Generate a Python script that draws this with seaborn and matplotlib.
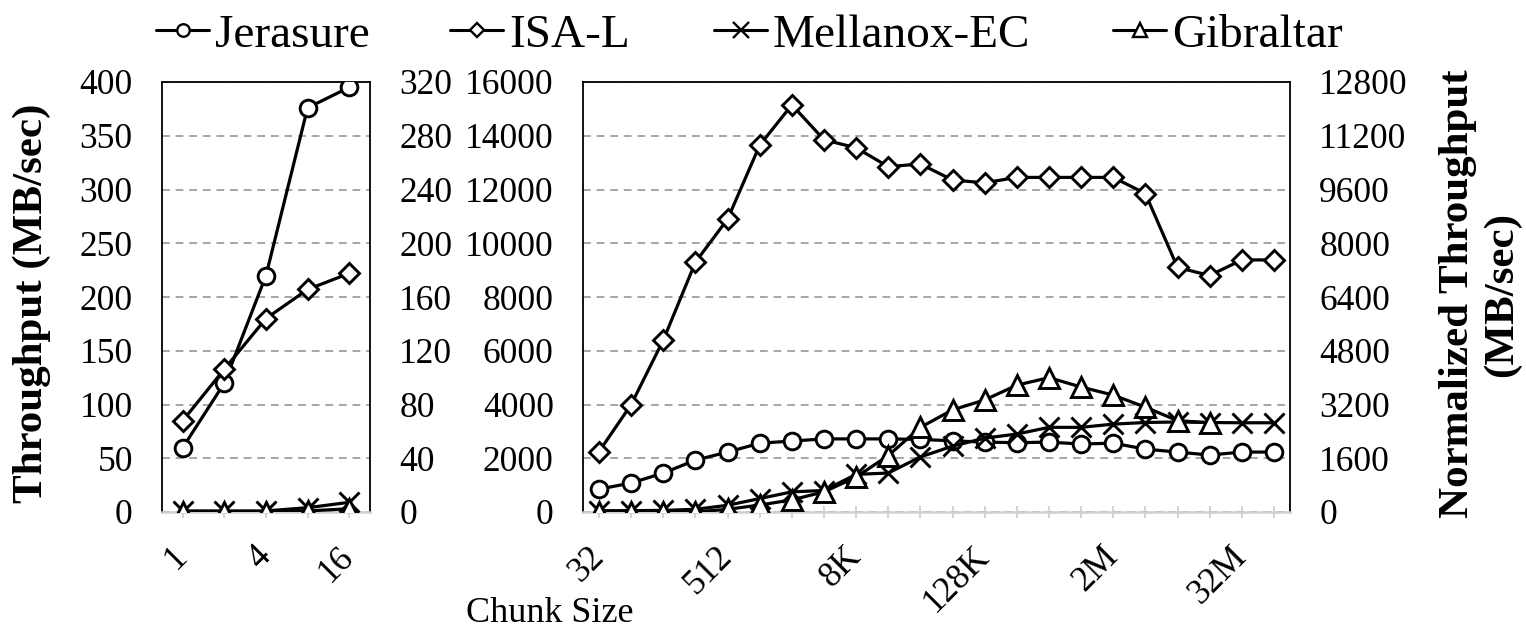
import matplotlib
matplotlib.use('Agg')
import matplotlib.pyplot as plt
import seaborn as sns
import numpy as np
from matplotlib.lines import Line2D

sns.set_theme(style='white')
plt.rcParams['font.family'] = ['Liberation Serif', 'DejaVu Serif']
plt.rcParams['text.color'] = 'black'
plt.rcParams['xtick.color'] = 'black'
plt.rcParams['ytick.color'] = 'black'

# ---------------- data ----------------
series_names = ['Jerasure', 'ISA-L', 'Mellanox-EC', 'Gibraltar']

small_sizes = ['1', '2', '4', '8', '16']
small_tick_labels = ['1', '', '4', '', '16']
jer_small = [60, 120, 220, 376, 395]
isal_small = [85, 133, 180, 207, 222]
mlx_small = [1, 1, 1, 4, 9]
gib_small = [0, 0, 0, 1, 3]

big_sizes = ['32', '64', '128', '256', '512', '1K', '2K', '4K', '8K', '16K', '32K',
             '64K', '128K', '256K', '512K', '1M', '2M', '4M', '8M', '16M', '32M', '64M']
big_tick_labels = ['32', '', '', '', '512', '', '', '', '8K', '', '', '', '128K', '', '', '',
                   '2M', '', '', '', '32M', '']
jer_big = [850, 1080, 1450, 1930, 2230, 2560, 2640, 2720, 2720, 2720, 2700, 2650, 2600,
           2580, 2600, 2530, 2560, 2340, 2230, 2120, 2230, 2230]
isal_big = [2250, 4000, 6400, 9300, 10900, 13650, 15150, 13850, 13550, 12850, 12950, 12350,
            12250, 12450, 12450, 12450, 12450, 11850, 9100, 8800, 9380, 9380]
mlx_big = [50, 50, 60, 100, 250, 500, 750, 800, 1400, 1450, 2050, 2450, 2750, 2900, 3150,
           3150, 3270, 3330, 3350, 3330, 3320, 3320]
gib_big = [0, 0, 0, 0, 100, 260, 450, 750, 1300, 2100, 3150, 3800, 4170, 4720, 5000, 4650,
           4350, 3900, 3400, 3320]  # ends at 16M

left_yticks = list(range(0, 401, 50))
left_norm_yticks = list(range(0, 321, 40))
right_yticks = list(range(0, 16001, 2000))
right_norm_yticks = list(range(0, 12801, 1600))

# ---------------- styles ----------------
markers = {'Jerasure': ('o', 12), 'ISA-L': ('D', 10), 'Mellanox-EC': ('x', 15), 'Gibraltar': ('^', 14)}

W, H = 1526, 631
fig = plt.figure(figsize=(W / 100, H / 100), dpi=100)
ax1 = fig.add_axes([162 / W, 1 - 512 / H, 208 / W, 430 / H])
ax2 = fig.add_axes([583 / W, 1 - 512 / H, 707 / W, 430 / H])

small_data = [jer_small, isal_small, mlx_small, gib_small]
big_data = [jer_big, isal_big, mlx_big, gib_big]

def draw(ax, data):
    for name, vals in zip(series_names, data):
        m, ms = markers[name]
        sns.lineplot(x=np.arange(len(vals)), y=vals, ax=ax, color='black', linewidth=2.3,
                     marker=m, markersize=ms, markerfacecolor='white', markeredgecolor='black',
                     markeredgewidth=2.1, zorder=3, legend=False)

draw(ax1, small_data)
draw(ax2, big_data)

def style(ax, n, ylim, yticks, xlabels, twin_lim, twin_ticks):
    ax.set_xlim(-0.5, n - 0.5)
    ax.set_ylim(*ylim)
    ax.set_yticks(yticks)
    ax.set_yticklabels([str(v) for v in yticks])
    ax.set_xticks(np.arange(n))
    ax.set_xticklabels(xlabels, rotation=45, ha='right', va='center', rotation_mode='anchor')
    ax.set_xlabel('')
    ax.set_ylabel('')
    ax.yaxis.grid(True, color='#a6a6a6', linestyle=(0, (4, 3)), linewidth=1.4)
    ax.xaxis.grid(False)
    ax.set_axisbelow(True)
    for s in ['left', 'top', 'right']:
        ax.spines[s].set_visible(True)
        ax.spines[s].set_color('black')
        ax.spines[s].set_linewidth(1.3)
    ax.spines['bottom'].set_color('#d0d0d0')
    ax.spines['bottom'].set_linewidth(1.8)
    ax.tick_params(axis='y', left=True, length=0, pad=21, labelsize=25.5, labelcolor='black')
    ax.tick_params(axis='x', bottom=True, direction='inout', length=9, width=1.3,
                   color='#d0d0d0', pad=24, labelsize=25.5, labelcolor='black')
    tw = ax.twinx()
    tw.set_ylim(*twin_lim)
    tw.set_yticks(twin_ticks)
    tw.set_yticklabels([str(v) for v in twin_ticks])
    tw.grid(False)
    for s in tw.spines.values():
        s.set_visible(False)
    tw.tick_params(axis='y', right=True, length=0, pad=21, labelsize=25.5, labelcolor='black')
    return tw

style(ax1, 5, (0, 400), left_yticks, small_tick_labels, (0, 320), left_norm_yticks)
style(ax2, 22, (0, 16000), right_yticks, big_tick_labels, (0, 12800), right_norm_yticks)

fig.text(32 / W, 1 - 303 / H, 'Throughput (MB/sec)', rotation=90, fontsize=31,
         fontweight='bold', ha='center', va='center')
fig.text(1480 / W, 1 - 294 / H, 'Normalized Throughput\n(MB/sec)', rotation=90, fontsize=31,
         fontweight='bold', ha='center', va='center', multialignment='center', linespacing=1.2)
fig.text(550 / W, 1 - 613 / H, 'Chunk Size', fontsize=26, ha='center', va='center')

leg_x = [156, 450, 714, 1113]
for name, x in zip(series_names, leg_x):
    m, ms = markers[name]
    h = Line2D([], [], color='black', lw=2.2, marker=m, markersize=ms * 0.75,
               markerfacecolor='white', markeredgecolor='black', markeredgewidth=1.7)
    fig.legend(handles=[h], labels=[name], loc='center left', bbox_to_anchor=(x / W, 1 - 35 / H),
               frameon=False, fontsize=34, handlelength=1.13, handletextpad=0.12,
               borderpad=0, borderaxespad=0)

fig.savefig('out.png', dpi=100)
